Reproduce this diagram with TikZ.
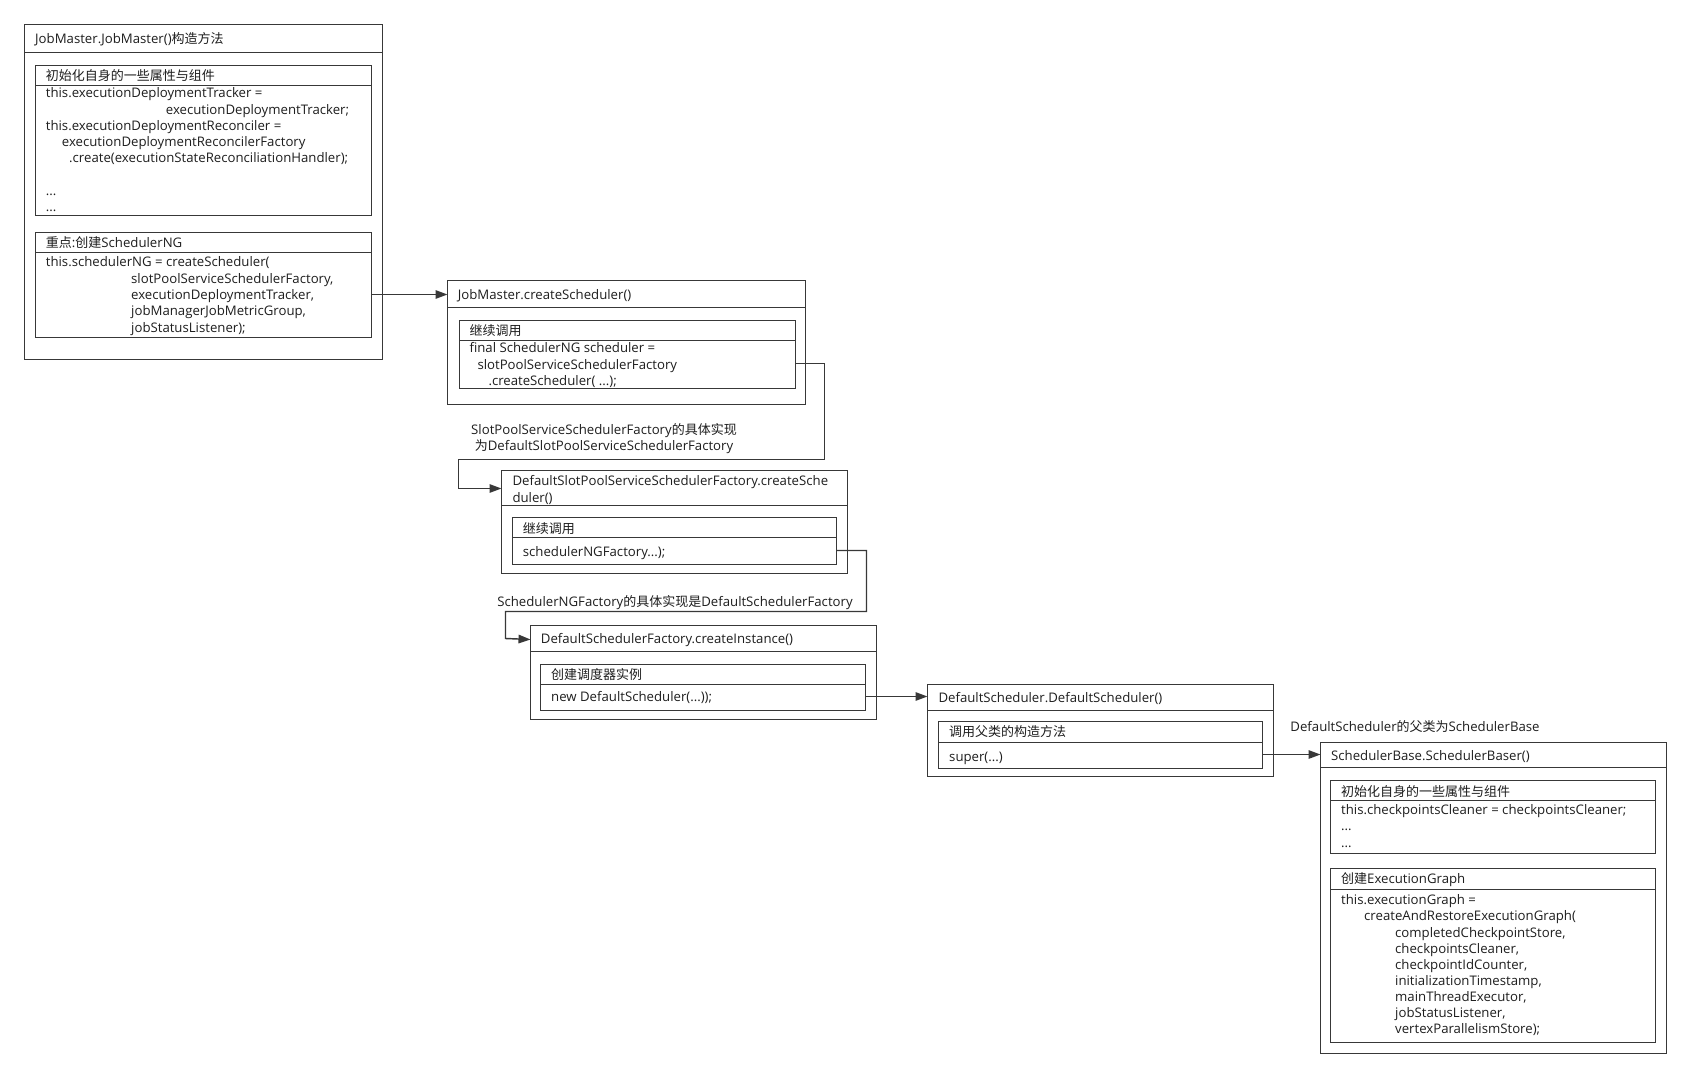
\documentclass[tikz,border=0pt]{standalone}
\usepackage{fontspec}
\setmainfont[Scale=1.015]{Open Sans}
\newfontfamily\cjk{Noto Sans CJK SC}
\usetikzlibrary{arrows.meta,calc}
\definecolor{linec}{HTML}{383838}
\definecolor{textc}{HTML}{1E1E1E}
\newcommand\fs{\fontsize{13}{16}\selectfont}
\newcommand\zh[1]{{\cjk #1}}
\tikzset{
  frame/.style={draw=linec, line width=1.45pt, rectangle, inner sep=0pt, outer sep=0pt, anchor=north west},
  sepl/.style={draw=linec, line width=1.45pt},
  txt/.style={inner sep=0pt, anchor=base west, font=\fs, text=textc},
  lbl/.style={inner sep=0pt, anchor=center, font=\fs, text=textc},
  conn/.style={draw=linec, line width=1.45pt, -{Triangle[length=12pt,width=8.5pt]}},
}
\newcommand\ubox[6]{%
  \node[frame, minimum width={#4-#2}, minimum height={#5-#3}] (#1) at (#2,#3) {};
  \draw[sepl] (#2,#6) -- (#4,#6);}
\newcommand\cl[4]{\node[txt] (#1) at (#2,{#3+4.5}) {#4};}
\begin{document}
\begin{tikzpicture}[x=1pt,y=-1pt]
\useasboundingbox (0,0) rectangle (1690,1078);
\fill[white] (0,0) rectangle (1690,1078);

% Box A
\ubox{A}{24.5}{24.5}{382.5}{359.5}{52.5}
\cl{At}{35}{39}{JobMaster.JobMaster()\zh{构造方法}}
\ubox{A1}{35.5}{65.5}{371.5}{215.5}{85.5}
\cl{A1h}{45.7}{76}{\zh{初始化自身的一些属性与组件}}
\cl{A1a}{45.7}{93.3}{this.executionDeploymentTracker =}
\cl{A1b}{165.7}{109.6}{executionDeploymentTracker;}
\cl{A1c}{45.7}{125.9}{this.executionDeploymentReconciler =}
\cl{A1d}{61.7}{142.2}{executionDeploymentReconcilerFactory}
\cl{A1e}{69}{158.5}{.create(executionStateReconciliationHandler);}
\cl{A1f}{45.7}{191.1}{...}
\cl{A1g}{45.7}{207.4}{...}
\ubox{A2}{35.5}{232.5}{371.5}{337.5}{252.5}
\cl{A2h}{45.7}{243.3}{\zh{重点}:\zh{创建}SchedulerNG}
\cl{A2a}{45.7}{262.3}{this.schedulerNG = createScheduler(}
\cl{A2b}{131}{278.6}{slotPoolServiceSchedulerFactory,}
\cl{A2c}{131}{294.9}{executionDeploymentTracker,}
\cl{A2d}{131}{311.2}{jobManagerJobMetricGroup,}
\cl{A2e}{131}{327.5}{jobStatusListener);}

% Box B
\ubox{B}{447.5}{280.5}{805.5}{404.5}{307.5}
\cl{Bt}{457.7}{295}{JobMaster.createScheduler()}
\ubox{B1}{459.5}{320.5}{795.5}{388.5}{340.5}
\cl{B1h}{469.3}{330.7}{\zh{继续调用}}
\cl{B1a}{469.3}{348.3}{final SchedulerNG scheduler =}
\cl{B1b}{477.3}{364.6}{slotPoolServiceSchedulerFactory}
\cl{B1c}{488.3}{380.9}{.createScheduler( ...);}

\node[lbl, align=center] (L1) at (604,438.3) {SlotPoolServiceSchedulerFactory\zh{的具体实现}\\\zh{为}DefaultSlotPoolServiceSchedulerFactory};

% Box C
\ubox{C}{501.5}{470.5}{847.5}{573.5}{505.5}
\cl{Ct1}{512.3}{480.7}{DefaultSlotPoolServiceSchedulerFactory.createSche}
\cl{Ct2}{512.3}{497.7}{duler()}
\ubox{C1}{512.5}{517.5}{836.5}{564.5}{537.5}
\cl{C1h}{522.7}{528.7}{\zh{继续调用}}
\cl{C1a}{522.7}{551.5}{schedulerNGFactory...);}

\node[lbl] (L2) at (675,602.3) {SchedulerNGFactory\zh{的具体实现是}DefaultSchedulerFactory};

% Box D
\ubox{D}{530.5}{625.5}{876.5}{719.5}{651.5}
\cl{Dt}{540.7}{639}{DefaultSchedulerFactory.createInstance()}
\ubox{D1}{540.5}{664.5}{865.5}{710.5}{684.5}
\cl{D1h}{551}{675}{\zh{创建调度器实例}}
\cl{D1a}{551}{696.7}{new DefaultScheduler(...));}

% Box E
\ubox{E}{927.5}{684.5}{1273.5}{776.5}{710.5}
\cl{Et}{938.3}{697.7}{DefaultScheduler.DefaultScheduler()}
\ubox{E1}{938.5}{721.5}{1262.5}{768.5}{742.5}
\cl{E1h}{949}{732.3}{\zh{调用父类的构造方法}}
\cl{E1a}{949}{757.3}{super(...)}

\node[lbl] (L3) at (1415,726.7) {DefaultScheduler\zh{的父类为}SchedulerBase};

% Box F
\ubox{F}{1320.5}{742.5}{1666.5}{1053.5}{767.5}
\cl{Ft}{1331}{755.7}{SchedulerBase.SchedulerBaser()}
\ubox{F1}{1330.5}{780.5}{1655.5}{853.5}{800.5}
\cl{F1h}{1341}{791.7}{\zh{初始化自身的一些属性与组件}}
\cl{F1a}{1341}{810}{this.checkpointsCleaner = checkpointsCleaner;}
\cl{F1b}{1341}{826.3}{...}
\cl{F1c}{1341}{842.6}{...}
\ubox{F2}{1330.5}{868.5}{1655.5}{1042.5}{889.5}
\cl{F2h}{1341}{879.3}{\zh{创建}ExecutionGraph}
\cl{F2a}{1341}{900.3}{this.executionGraph =}
\cl{F2b}{1364}{916.4}{createAndRestoreExecutionGraph(}
\cl{F2c}{1395}{932.5}{completedCheckpointStore,}
\cl{F2d}{1395}{948.6}{checkpointsCleaner,}
\cl{F2e}{1395}{964.7}{checkpointIdCounter,}
\cl{F2f}{1395}{980.8}{initializationTimestamp,}
\cl{F2g}{1395}{996.9}{mainThreadExecutor,}
\cl{F2i}{1395}{1013}{jobStatusListener,}
\cl{F2j}{1395}{1029.1}{vertexParallelismStore);}

% Connectors
\draw[conn] ($(A2.north east)+(0,62)$) -- ($(B.north west)+(0,14)$);
\draw[conn] ($(B1.north east)+(0,43)$) -- ++(29,0) -- ++(0,96) -- ++(-366,0) -- ++(0,29) -- ($(C.north west)+(0,18)$);
\draw[conn] ($(C1.north east)+(0,33)$) -- ++(30,0) -- ++(0,61) -- ++(-361,0) -- ++(0,27) -- ($(D.north west)+(0,14)$);
\draw[conn] ($(D1.north east)+(0,32)$) -- ($(E.north west)+(0,12)$);
\draw[conn] ($(E1.north east)+(0,33)$) -- ($(F.north west)+(0,12)$);
\end{tikzpicture}
\end{document}
